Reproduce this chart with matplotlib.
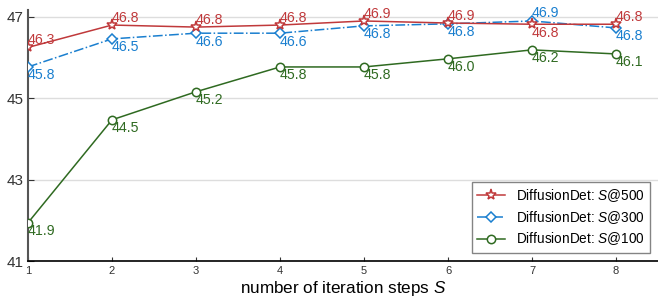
import matplotlib
matplotlib.use("Agg")
import matplotlib.pyplot as plt

plt.rcParams['font.family'] = ['Liberation Sans', 'DejaVu Sans']
plt.rcParams['mathtext.fontset'] = 'custom'
plt.rcParams['mathtext.it'] = 'Liberation Sans:italic'
plt.rcParams['mathtext.rm'] = 'Liberation Sans'

# --- Data ---
steps = [1, 2, 3, 4, 5, 6, 7, 8]
ap_500 = [46.25, 46.8, 46.75, 46.8, 46.9, 46.85, 46.82, 46.82]
ap_300 = [45.77, 46.46, 46.6, 46.6, 46.78, 46.83, 46.9, 46.73]
ap_100 = [41.94, 44.47, 45.16, 45.77, 45.77, 45.97, 46.19, 46.09]
labels_500 = ["46.3", "46.8", "46.8", "46.8", "46.9", "46.9", "46.8", "46.8"]
labels_300 = ["45.8", "46.5", "46.6", "46.6", "46.8", "46.8", "46.9", "46.8"]
labels_100 = ["41.9", "44.5", "45.2", "45.8", "45.8", "46.0", "46.2", "46.1"]
yticks = [41, 43, 45, 47]

red = "#c0393b"
blue = "#1a7fcf"
green = "#2f6a21"

fig = plt.figure(figsize=(6.58, 2.99), dpi=100)
ax = fig.add_axes([28 / 658, 38 / 299, 630 / 658, 251 / 299])

ax.plot(steps, ap_500, color=red, lw=1.1, marker="*", ms=8, mfc="white", mec=red,
        mew=1.1, label="DiffusionDet: $S$@500", zorder=4)
ax.plot(steps, ap_300, color=blue, lw=1.1, ls="-.", marker="D", ms=5, mfc="white", mec=blue,
        mew=1.1, label="DiffusionDet: $S$@300", zorder=3)
ax.plot(steps, ap_100, color=green, lw=1.1, marker="o", ms=6, mfc="white", mec=green,
        mew=1.1, label="DiffusionDet: $S$@100", zorder=3)

# value labels
for i, (x, y, t) in enumerate(zip(steps, ap_500, labels_500)):
    below = (i == 6)
    ax.annotate(t, (x, y), xytext=(0, -1 if below else 0), textcoords="offset points",
                ha="left", va="top" if below else "bottom", fontsize=10.2, color=red)
for i, (x, y, t) in enumerate(zip(steps, ap_300, labels_300)):
    above = (i == 6)
    ax.annotate(t, (x, y), xytext=(0, 1 if above else -1), textcoords="offset points",
                ha="left", va="bottom" if above else "top", fontsize=10.2, color=blue)
for x, y, t in zip(steps, ap_100, labels_100):
    ax.annotate(t, (x, y), xytext=(0, -1), textcoords="offset points",
                ha="left", va="top", fontsize=10.2, color=green)

ax.set_xlim(1, 8.5)
ax.set_ylim(41, 47.17)
ax.set_xticks(steps)
ax.set_yticks(yticks)
ax.tick_params(axis="x", direction="in", labelsize=8, length=3, colors="#333333")
ax.tick_params(axis="y", direction="in", labelsize=11, length=4, colors="#333333")
ax.grid(axis="y", color="#dddddd", lw=1)
ax.set_axisbelow(True)

for s in ["top", "right"]:
    ax.spines[s].set_visible(False)
ax.spines["left"].set_color("#555555")
ax.spines["left"].set_linewidth(1.5)
ax.spines["bottom"].set_color("black")
ax.spines["bottom"].set_linewidth(1.2)

ax.set_xlabel("number of iteration steps $S$", fontsize=12.3, labelpad=2)

leg = ax.legend(loc="lower right", fontsize=9.8, fancybox=False, edgecolor="#666666",
                borderaxespad=0.6, handlelength=2.0, labelspacing=0.35)
leg.get_frame().set_linewidth(1.0)

fig.savefig("out.png", dpi=100)
